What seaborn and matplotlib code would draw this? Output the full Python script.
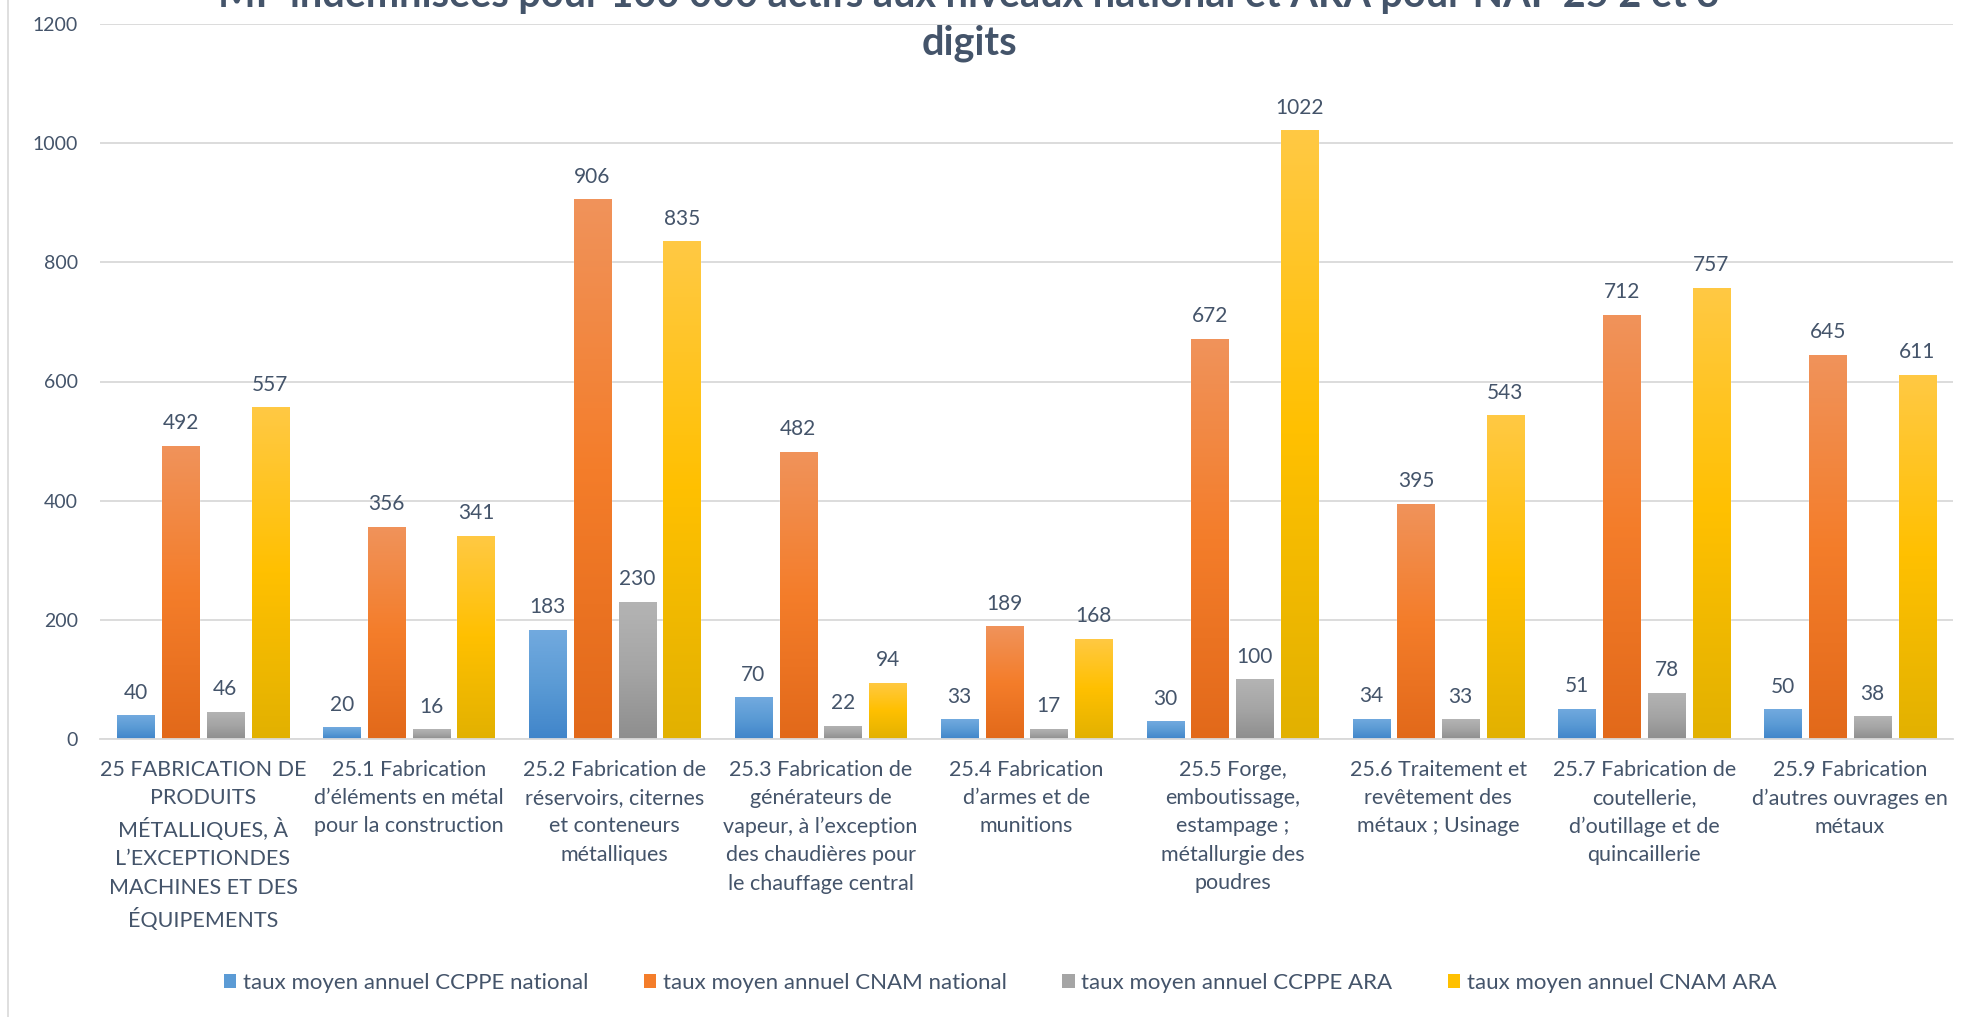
import matplotlib.pyplot as plt
import numpy as np
import pandas as pd
import seaborn as sns
from matplotlib.colors import LinearSegmentedColormap
from matplotlib.lines import Line2D
from matplotlib.patches import Patch

# Données
categories = [
    "25 FABRICATION DE\nPRODUITS\nMÉTALLIQUES, À\nL’EXCEPTIONDES\nMACHINES ET DES\nÉQUIPEMENTS",
    "25.1 Fabrication\nd’éléments en métal\npour la construction",
    "25.2 Fabrication de\nréservoirs, citernes\net conteneurs\nmétalliques",
    "25.3 Fabrication de\ngénérateurs de\nvapeur, à l’exception\ndes chaudières pour\nle chauffage central",
    "25.4 Fabrication\nd’armes et de\nmunitions",
    "25.5 Forge,\nemboutissage,\nestampage ;\nmétallurgie des\npoudres",
    "25.6 Traitement et\nrevêtement des\nmétaux ; Usinage",
    "25.7 Fabrication de\ncoutellerie,\nd’outillage et de\nquincaillerie",
    "25.9 Fabrication\nd’autres ouvrages en\nmétaux",
]
ccppe_national = [40, 20, 183, 70, 33, 30, 34, 51, 50]
cnam_national = [492, 356, 906, 482, 189, 672, 395, 712, 645]
ccppe_ara = [46, 16, 230, 22, 17, 100, 33, 78, 38]
cnam_ara = [557, 341, 835, 94, 168, 1022, 543, 757, 611]
series_names = [
    "taux moyen annuel CCPPE national",
    "taux moyen annuel CNAM national",
    "taux moyen annuel CCPPE ARA",
    "taux moyen annuel CNAM ARA",
]
title_line1 = "MP indemnisées pour 100 000 actifs aux niveaux national et ARA pour NAF 25 2 et 3"
title_line2 = "digits"

# dégradés (bas -> haut), façon Excel
gradients = [
    ["#4085CA", "#5B9BD5", "#72AADF"],
    ["#E2691A", "#F47D2A", "#F0935B"],
    ["#8E8E8E", "#A5A5A5", "#B4B4B4"],
    ["#E2B100", "#FFC000", "#FFC944"],
]
mid_colors = [g[1] for g in gradients]

df = pd.DataFrame({
    "categorie": categories * 4,
    "serie": np.repeat(series_names, len(categories)),
    "valeur": ccppe_national + cnam_national + ccppe_ara + cnam_ara,
})

sns.set_style("white")
plt.rcParams["font.family"] = ["Lato", "DejaVu Sans"]
txt = "#44546A"

W, H = 1973, 1017
fig = plt.figure(figsize=(W / 100, H / 100), dpi=100)
ax = fig.add_axes([100 / W, 1 - 739 / H, (1953 - 100) / W, (739 - 24) / H])

sns.barplot(data=df, x="categorie", y="valeur", hue="serie", hue_order=series_names,
            palette=mid_colors, width=0.87, gap=0.17, saturation=1, legend=False, ax=ax)

ax.set_xlim(-0.5, len(categories) - 0.5)
ax.set_ylim(0, 1200)

# remplissage en dégradé + étiquettes
for cont, cols in zip(ax.containers, gradients):
    cmap = LinearSegmentedColormap.from_list("g", cols)
    grad = np.linspace(0, 1, 256).reshape(-1, 1)
    for bar in cont:
        x, w, h = bar.get_x(), bar.get_width(), bar.get_height()
        im = ax.imshow(grad, extent=[x, x + w, 0, h], origin="lower", cmap=cmap,
                       aspect="auto", zorder=bar.get_zorder() + 0.1)
        im.set_clip_path(bar)
        ax.annotate(f"{h:.0f}", (x + w / 2, h), xytext=(0, 9), textcoords="offset points",
                    ha="center", va="bottom", fontsize=15, color=txt)

ax.set_xlim(-0.5, len(categories) - 0.5)
ax.set_ylim(0, 1200)
ax.set_yticks(range(0, 1201, 200))
ax.yaxis.grid(True, color="#D9D9D9", lw=1.3)
ax.set_axisbelow(True)
for s in ["top", "right", "left"]:
    ax.spines[s].set_visible(False)
ax.spines["bottom"].set_color("#D9D9D9")
ax.spines["bottom"].set_linewidth(1.3)
ax.set_xlabel("")
ax.set_ylabel("")
ax.tick_params(axis="y", length=0, pad=16, labelsize=14, labelcolor=txt)
ax.tick_params(axis="x", length=0, pad=15, labelsize=15.5, labelcolor=txt)
for lab in ax.get_xticklabels():
    lab.set_linespacing(1.52)
    lab.set_multialignment("center")

# titre (première ligne coupée en haut, comme l'original)
fig.text(969 / W, 1 - 7 / H, title_line1, ha="center", va="baseline",
         fontsize=28.5, fontweight="bold", color=txt)
fig.text(969 / W, 1 - 54 / H, title_line2, ha="center", va="baseline",
         fontsize=28.5, fontweight="bold", color=txt)

handles = [Patch(facecolor=c, edgecolor="none") for c in mid_colors]
fig.legend(handles, series_names, loc="center", bbox_to_anchor=(0.507, 1 - 983 / H), ncol=4,
           frameon=False, fontsize=16, labelcolor=txt, handlelength=0.55, handleheight=0.55,
           handletextpad=0.3, columnspacing=2.5)

fig.add_artist(Line2D([8 / W, 8 / W], [0, 1], color="#D9D9D9", lw=1.2, transform=fig.transFigure))

fig.savefig("out.png", dpi=100)
